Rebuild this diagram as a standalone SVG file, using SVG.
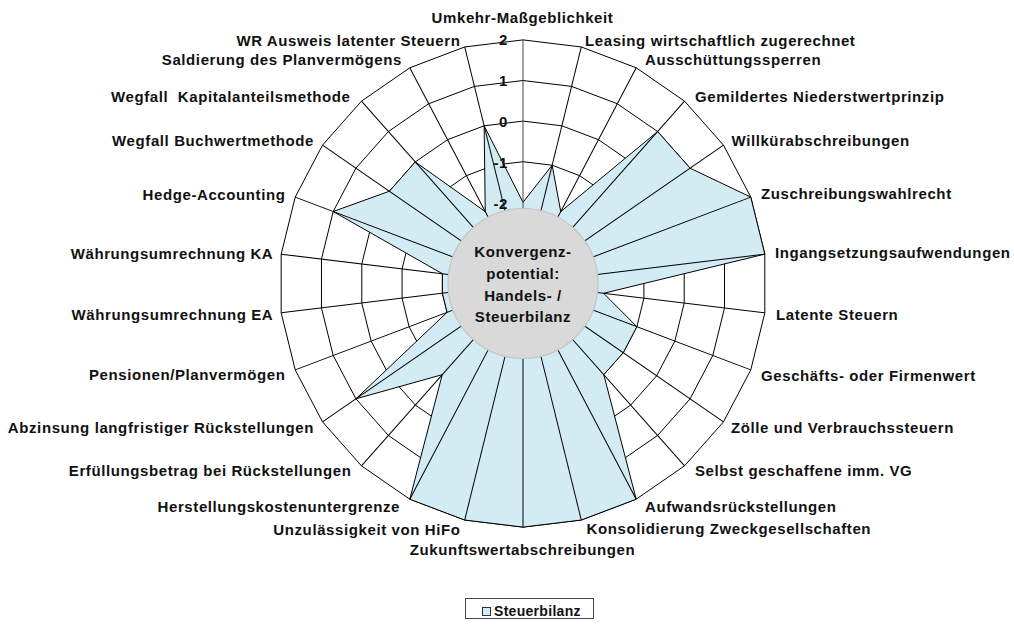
<svg xmlns="http://www.w3.org/2000/svg" xmlns:xlink="http://www.w3.org/1999/xlink" width="1014" height="624" viewBox="0 0 1014 624">
<style>
.lbl{font-family:"Liberation Sans",Arial,sans-serif;font-weight:bold;font-size:15px;letter-spacing:0.6px;fill:#111}
.end{text-anchor:end}
.mid{text-anchor:middle}
.ringp{fill:none;stroke:#000;stroke-width:1;vector-effect:non-scaling-stroke}
.spoke line{stroke:#000;stroke-width:1}
</style>
<defs>
<polygon id="ring" class="ringp" points="0,-100 23.932,-97.094 46.472,-88.546 66.312,-74.851 82.298,-56.806 93.502,-35.460 99.271,-12.054 99.271,12.054 93.502,35.460 82.298,56.806 66.312,74.851 46.472,88.546 23.932,97.094 0,100 -23.932,97.094 -46.472,88.546 -66.312,74.851 -82.298,56.806 -93.502,35.460 -99.271,12.054 -99.271,-12.054 -93.502,-35.460 -82.298,-56.806 -66.312,-74.851 -46.472,-88.546 -23.932,-97.094"/>
</defs>
<rect width="1014" height="624" fill="#fff"/>
<g id="grid-rings">
<use xlink:href="#ring" href="#ring" transform="translate(523 283.5) scale(0.812)"/>
<use xlink:href="#ring" href="#ring" transform="translate(523 283.5) scale(1.218)"/>
<use xlink:href="#ring" href="#ring" transform="translate(523 283.5) scale(1.624)"/>
<use xlink:href="#ring" href="#ring" transform="translate(523 283.5) scale(2.03)"/>
<use xlink:href="#ring" href="#ring" transform="translate(523 283.5) scale(2.436)"/>
</g>
<g id="series-steuerbilanz">
<polygon points="523,202.3 552.15,165.24 560.74,211.6 657.61,131.55 690.06,168.18 750.77,197.12 764.82,254.14 603.61,293.29 636.89,326.69 623.24,352.69 603.77,374.67 636.21,499.2 581.3,520.02 523,527.1 464.7,520.02 409.79,499.2 442.23,374.67 355.94,398.82 447.08,312.29 442.39,293.29 442.39,273.71 333.19,211.52 389.35,191.25 415.31,161.94 485.26,211.6 484.13,125.82" fill="#d3ebf3" stroke="#000" stroke-width="1" stroke-linejoin="miter"/>
</g>
<g id="spokes" class="spoke" transform="translate(523 283.5)">
<line x1="0" y1="0" x2="0" y2="-243.6" style="stroke:#444"/>
<line x1="0" y1="0" x2="0" y2="-243.6" transform="rotate(13.8462)"/>
<line x1="0" y1="0" x2="0" y2="-243.6" transform="rotate(27.6923)"/>
<line x1="0" y1="0" x2="0" y2="-243.6" transform="rotate(41.5385)"/>
<line x1="0" y1="0" x2="0" y2="-243.6" transform="rotate(55.3846)"/>
<line x1="0" y1="0" x2="0" y2="-243.6" transform="rotate(69.2308)"/>
<line x1="0" y1="0" x2="0" y2="-243.6" transform="rotate(83.0769)"/>
<line x1="0" y1="0" x2="0" y2="-243.6" transform="rotate(96.9231)"/>
<line x1="0" y1="0" x2="0" y2="-243.6" transform="rotate(110.7692)"/>
<line x1="0" y1="0" x2="0" y2="-243.6" transform="rotate(124.6154)"/>
<line x1="0" y1="0" x2="0" y2="-243.6" transform="rotate(138.4615)"/>
<line x1="0" y1="0" x2="0" y2="-243.6" transform="rotate(152.3077)"/>
<line x1="0" y1="0" x2="0" y2="-243.6" transform="rotate(166.1538)"/>
<line x1="0" y1="0" x2="0" y2="-243.6" transform="rotate(180)"/>
<line x1="0" y1="0" x2="0" y2="-243.6" transform="rotate(193.8462)"/>
<line x1="0" y1="0" x2="0" y2="-243.6" transform="rotate(207.6923)"/>
<line x1="0" y1="0" x2="0" y2="-243.6" transform="rotate(221.5385)"/>
<line x1="0" y1="0" x2="0" y2="-243.6" transform="rotate(235.3846)"/>
<line x1="0" y1="0" x2="0" y2="-243.6" transform="rotate(249.2308)"/>
<line x1="0" y1="0" x2="0" y2="-243.6" transform="rotate(263.0769)"/>
<line x1="0" y1="0" x2="0" y2="-243.6" transform="rotate(276.9231)"/>
<line x1="0" y1="0" x2="0" y2="-243.6" transform="rotate(290.7692)"/>
<line x1="0" y1="0" x2="0" y2="-243.6" transform="rotate(304.6154)"/>
<line x1="0" y1="0" x2="0" y2="-243.6" transform="rotate(318.4615)"/>
<line x1="0" y1="0" x2="0" y2="-243.6" transform="rotate(332.3077)"/>
<line x1="0" y1="0" x2="0" y2="-243.6" transform="rotate(346.1538)"/>
</g>
<g id="axis-values" class="lbl end">
<text x="508" y="45.4">2</text>
<text x="508" y="86.3">1</text>
<text x="508" y="126.8">0</text>
<text x="508" y="167.8">-1</text>
<text x="508" y="208.5">-2</text>
</g>
<g id="center-node">
<circle cx="523" cy="283.5" r="75" fill="#d9d9d9" stroke="#c4c4c4" stroke-width="1.2"/>
<g class="lbl mid">
<text x="523" y="256.7">Konvergenz-</text>
<text x="523" y="278.5">potential:</text>
<text x="523" y="300.5">Handels- /</text>
<text x="523" y="322.3">Steuerbilanz</text>
</g>
</g>
<g id="category-labels" class="lbl">
<text class="mid" x="522.5" y="22.7">Umkehr-Maßgeblichkeit</text>
<text x="585" y="46.3">Leasing wirtschaftlich zugerechnet</text>
<text x="645" y="65.2">Ausschüttungssperren</text>
<text x="695" y="102.3">Gemildertes Niederstwertprinzip</text>
<text x="731.5" y="145.6">Willkürabschreibungen</text>
<text x="761" y="199">Zuschreibungswahlrecht</text>
<text x="775" y="258.3">Ingangsetzungsaufwendungen</text>
<text x="776" y="320">Latente Steuern</text>
<text x="761" y="380.5">Geschäfts- oder Firmenwert</text>
<text x="731" y="433.3">Zölle und Verbrauchssteuern</text>
<text x="695" y="476">Selbst geschaffene imm. VG</text>
<text x="645" y="511.7">Aufwandsrückstellungen</text>
<text x="586.5" y="534.3">Konsolidierung Zweckgesellschaften</text>
<text class="mid" x="522.5" y="555">Zukunftswertabschreibungen</text>
<text class="end" x="460.5" y="535">Unzulässigkeit von HiFo</text>
<text class="end" x="400" y="511.7">Herstellungskostenuntergrenze</text>
<text class="end" x="351.5" y="476">Erfüllungsbetrag bei Rückstellungen</text>
<text class="end" x="314" y="433.3">Abzinsung langfristiger Rückstellungen</text>
<text class="end" x="285.5" y="380.3">Pensionen/Planvermögen</text>
<text class="end" x="273.3" y="320">Währungsumrechnung EA</text>
<text class="end" x="273.3" y="259">Währungsumrechnung KA</text>
<text class="end" x="285.5" y="199.5">Hedge-Accounting</text>
<text class="end" x="314" y="146">Wegfall Buchwertmethode</text>
<text class="end" x="350.5" y="101.7" xml:space="preserve">Wegfall  Kapitalanteilsmethode</text>
<text class="end" x="402" y="65.2">Saldierung des Planvermögens</text>
<text class="end" x="460.5" y="46.3">WR Ausweis latenter Steuern</text>
</g>
<g id="legend">
<rect x="465.5" y="598.5" width="128" height="20" fill="#fff" stroke="#444" stroke-width="1"/>
<rect x="482.5" y="607.5" width="8" height="8" fill="#d3ebf3" stroke="#333" stroke-width="1"/>
<text class="lbl" x="494" y="615.5" style="font-size:14px;letter-spacing:0.3px">Steuerbilanz</text>
</g>
</svg>
